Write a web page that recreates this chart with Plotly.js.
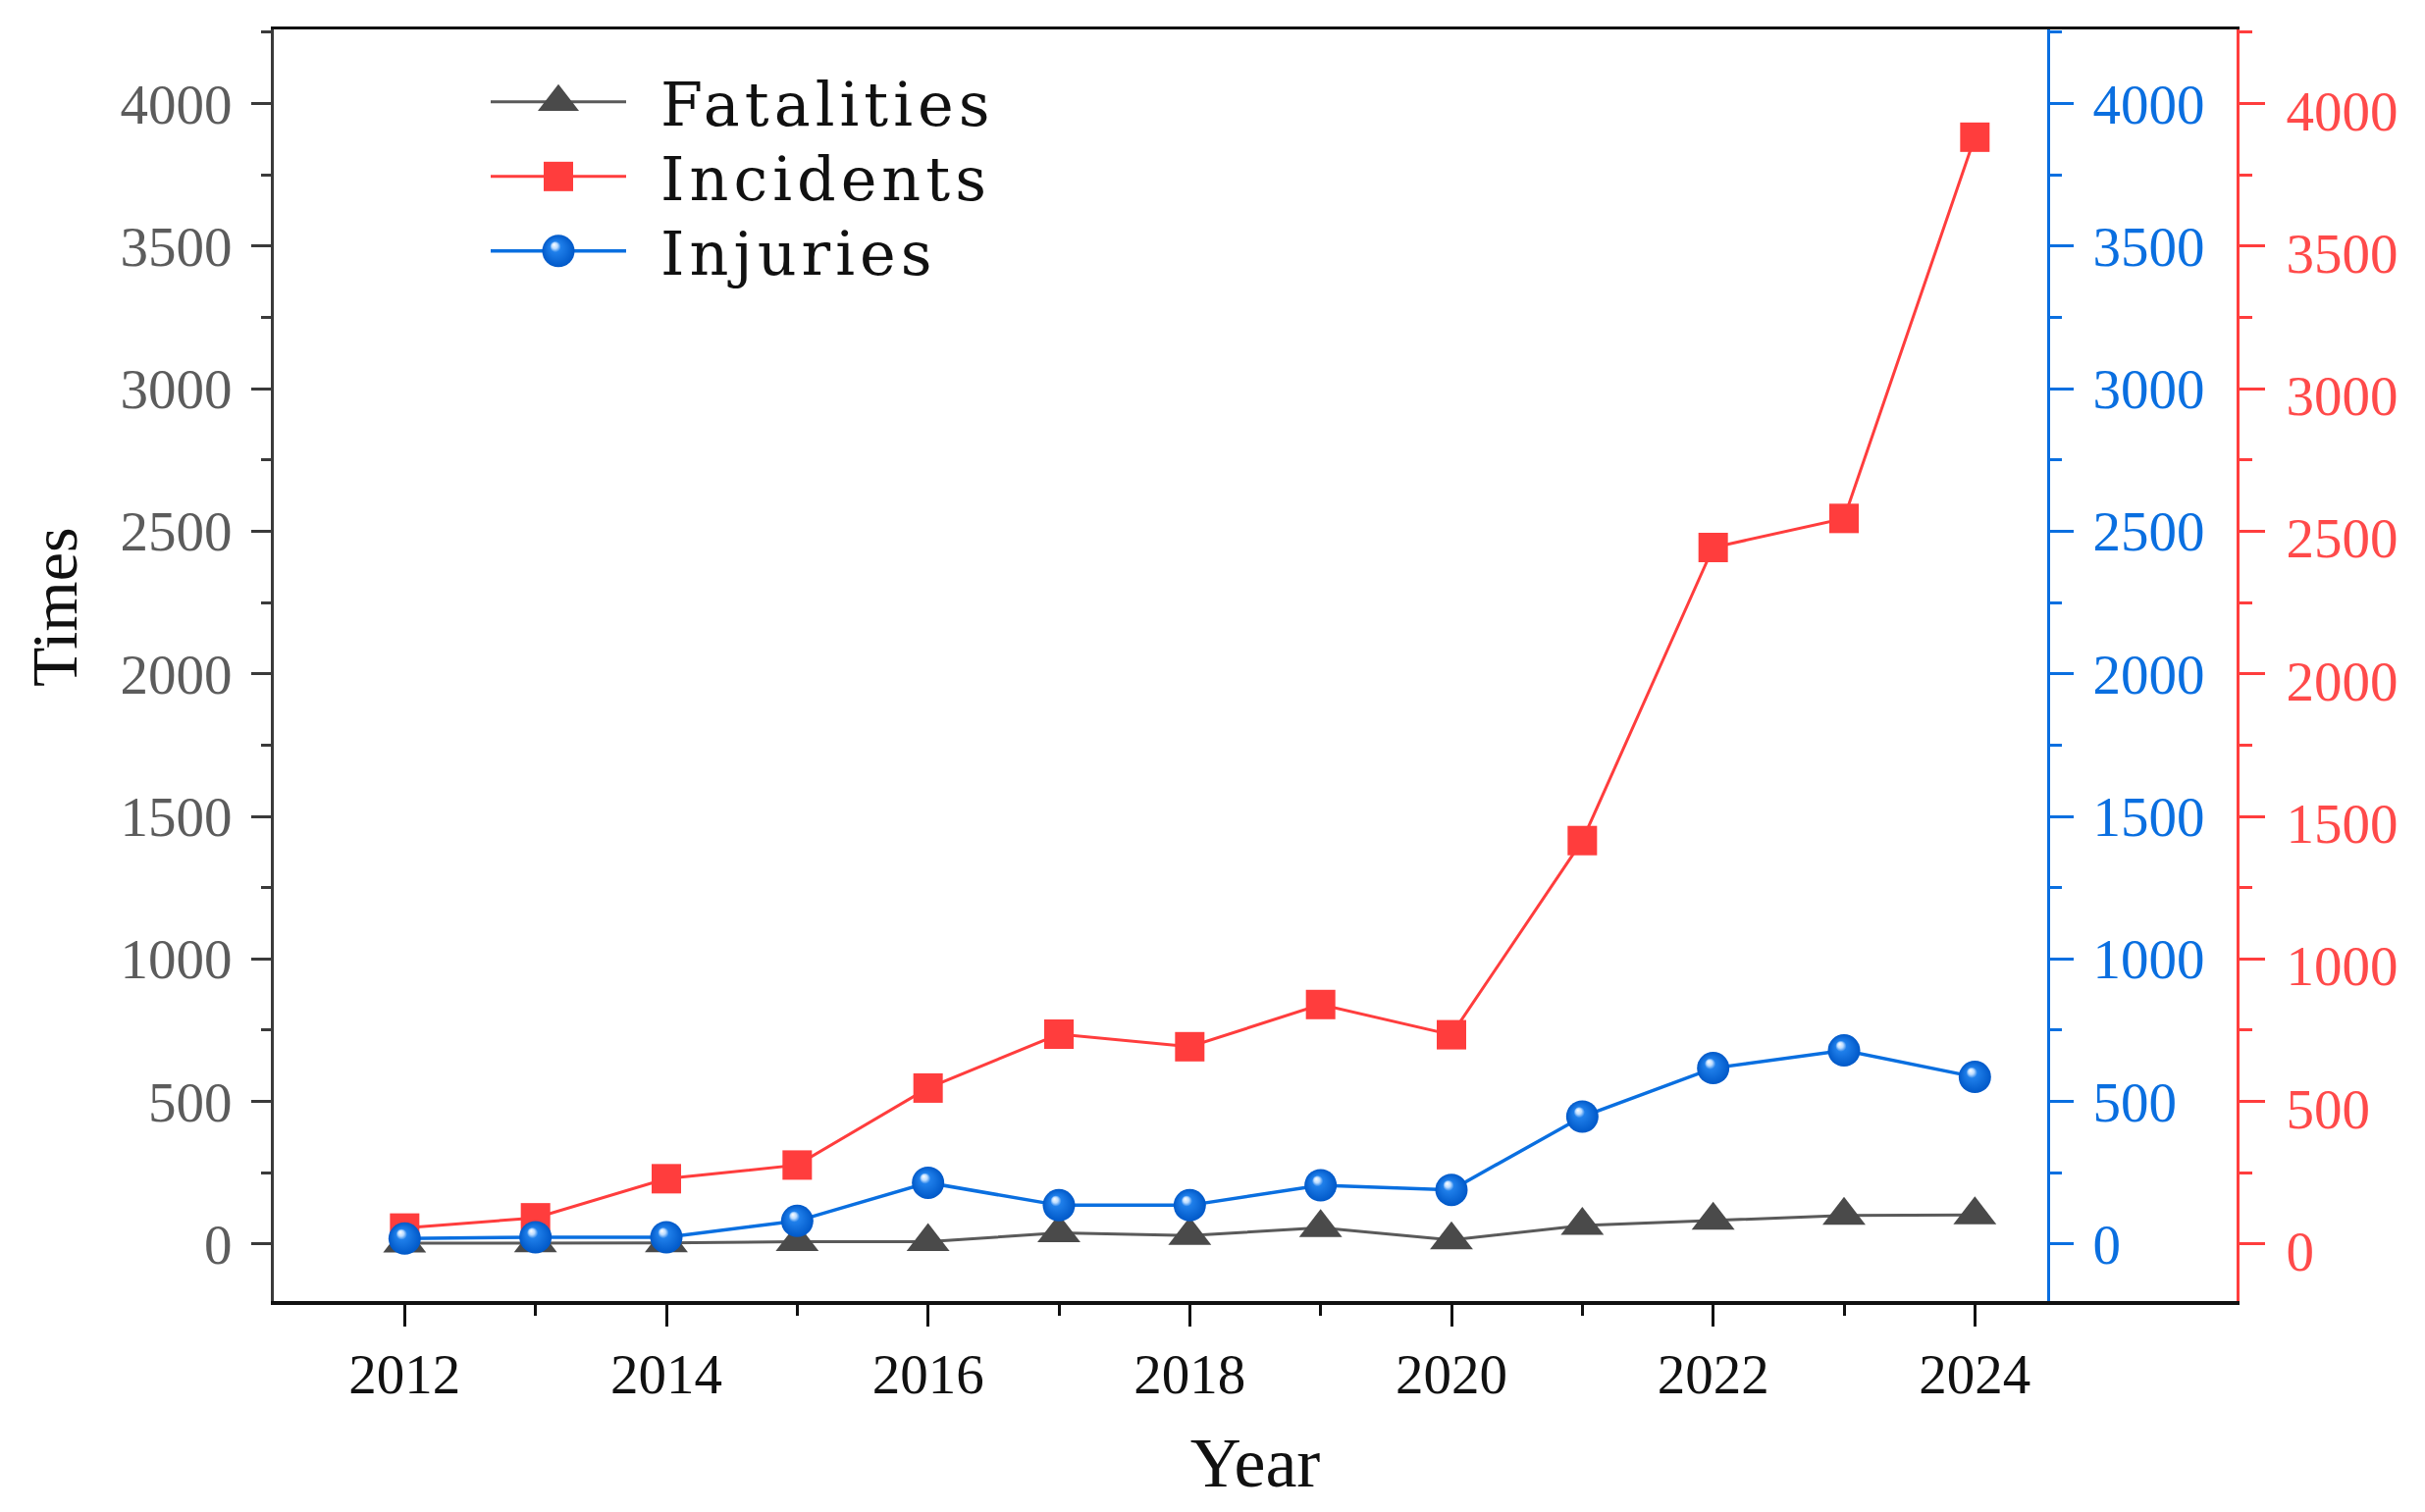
<!DOCTYPE html>
<html>
<head>
<meta charset="utf-8">
<script src="https://cdn.plot.ly/plotly-3.0.1.min.js"></script>
<style>
  html, body { margin: 0; padding: 0; background: #ffffff; }
  #chart { width: 2471px; height: 1541px; }
</style>
</head>
<body>
<div id="chart"></div>
<script>
// ---- data ----
const years = [2012, 2013, 2014, 2015, 2016, 2017, 2018, 2019, 2020, 2021, 2022, 2023, 2024];
const fatalities = [3, 4, 4, 8, 8, 39, 30, 57, 14, 65, 83, 100, 102];
const incidents = [56, 92, 229, 277, 547, 736, 692, 840, 734, 1415, 2443, 2545, 3882];
const injuries = [19, 24, 24, 81, 215, 136, 136, 206, 190, 447, 617, 679, 586];
const seriesNames = ['Fatalities', 'Incidents', 'Injuries'];
const xTickVals = [2012, 2014, 2016, 2018, 2020, 2022, 2024];
const xMinorVals = [2013, 2015, 2017, 2019, 2021, 2023];
const yTickVals = [0, 500, 1000, 1500, 2000, 2500, 3000, 3500, 4000];
const yMinorVals = [250, 750, 1250, 1750, 2250, 2750, 3250, 3750, 4250];

const RED = '#ff3d3d';
const REDTXT = '#ff4a4a';
const BLUE = '#0a6fe0';
const GRAY = '#4a4a4a';
const tickFontFamily = '"Liberation Serif", "Times New Roman", serif';
const yRange = [-200, 4260];

const traces = [
  {
    x: years, y: fatalities, name: seriesNames[0], type: 'scatter', mode: 'lines+markers',
    yaxis: 'y',
    line: { color: '#5a5a5a', width: 3 },
    marker: { symbol: 'triangle-up', size: 38, color: GRAY }
  },
  {
    x: years, y: incidents, name: seriesNames[1], type: 'scatter', mode: 'lines+markers',
    yaxis: 'y2',
    line: { color: RED, width: 3 },
    marker: { symbol: 'square', size: 30, color: RED }
  },
  {
    x: years, y: injuries, name: seriesNames[2], type: 'scatter', mode: 'lines+markers',
    yaxis: 'y3',
    line: { color: BLUE, width: 3.5 },
    marker: { symbol: 'circle', size: 33, color: BLUE,
              gradient: { type: 'radial', color: '#ffffff' } }
  }
];

const commonY = {
  range: yRange,
  tickmode: 'array',
  tickvals: yTickVals,
  showgrid: false,
  zeroline: false,
  showline: true,
  linewidth: 3,
  ticklen: 22,
  tickwidth: 3,
  fixedrange: true
};

const layout = {
  width: 2471,
  height: 1541,
  paper_bgcolor: '#ffffff',
  plot_bgcolor: '#ffffff',
  margin: { l: 279, r: 192, t: 30, b: 215, pad: 0 },
  showlegend: true,
  legend: {
    x: 0.108, y: 0.985, xanchor: 'left', yanchor: 'top',
    bgcolor: 'rgba(0,0,0,0)',
    borderwidth: 0,
    itemwidth: 138,
    font: { family: '"DejaVu Serif", serif', size: 62, color: '#111111' },
    traceorder: 'normal'
  },
  annotations: [
    {
      text: 'Times', xref: 'paper', yref: 'paper', x: -0.112, y: 0.5455,
      xanchor: 'center', yanchor: 'middle', textangle: -90, showarrow: false,
      font: { family: tickFontFamily, size: 66, color: '#111111' }
    }
  ],
  xaxis: {
    range: [2011, 2026],
    tickmode: 'array',
    tickvals: xTickVals,
    ticktext: xTickVals.map(String),
    ticks: 'outside',
    ticklen: 22,
    tickwidth: 3,
    tickcolor: '#111111',
    minor: { tickmode: 'array', tickvals: xMinorVals, ticks: 'outside', ticklen: 11, tickwidth: 3, tickcolor: '#111111' },
    showline: true,
    linecolor: '#111111',
    linewidth: 3.5,
    mirror: true,
    showgrid: false,
    zeroline: false,
    tickfont: { family: tickFontFamily, size: 57, color: '#111111' },
    title: { text: 'Year', font: { family: tickFontFamily, size: 72, color: '#111111' }, standoff: 34 },
    automargin: false,
    fixedrange: true
  },
  yaxis: Object.assign({}, commonY, {
    side: 'left',
    ticks: 'outside',
    linecolor: '#3a3a3a',
    tickcolor: '#3a3a3a',
    ticklen: 20,
    minor: { tickmode: 'array', tickvals: yMinorVals, ticks: 'outside', ticklen: 10, tickwidth: 3, tickcolor: '#3a3a3a' },
    tickfont: { family: tickFontFamily, size: 57, color: '#5c5c5c' },
    ticklabelstandoff: 8,
    automargin: false
  }),
  yaxis2: Object.assign({}, commonY, {
    overlaying: 'y',
    side: 'right',
    anchor: 'x',
    ticks: 'outside',
    linecolor: RED,
    tickcolor: RED,
    ticklen: 26,
    minor: { tickmode: 'array', tickvals: yMinorVals, ticks: 'outside', ticklen: 13, tickwidth: 3, tickcolor: RED },
    tickfont: { family: tickFontFamily, size: 57, color: REDTXT },
    ticklabelstandoff: 10,
    ticklabelshift: 7,
    automargin: false
  }),
  yaxis3: Object.assign({}, commonY, {
    overlaying: 'y',
    side: 'right',
    anchor: 'free',
    position: 0.904,
    ticks: 'outside',
    linecolor: BLUE,
    tickcolor: BLUE,
    ticklen: 24,
    minor: { tickmode: 'array', tickvals: yMinorVals, ticks: 'outside', ticklen: 12, tickwidth: 3, tickcolor: BLUE },
    tickfont: { family: tickFontFamily, size: 57, color: BLUE },
    ticklabelstandoff: 8,
    automargin: false
  }),
  // inner half of the red axis crossing ticks
  yaxis4: Object.assign({}, commonY, {
    overlaying: 'y',
    side: 'right',
    anchor: 'x',
    ticks: 'inside',
    linecolor: RED,
    tickcolor: RED,
    ticklen: 26,
    minor: { tickmode: 'array', tickvals: yMinorVals, ticks: 'inside', ticklen: 13, tickwidth: 3, tickcolor: RED },
    showticklabels: false,
    automargin: false
  })
};

function sphereGradients(root) {
  const NS = 'http://www.w3.org/2000/svg';
  root.querySelectorAll('radialGradient').forEach(function (g) {
    g.setAttribute('cx', '0.5'); g.setAttribute('cy', '0.5'); g.setAttribute('r', '0.5');
    g.setAttribute('fx', '0.36'); g.setAttribute('fy', '0.3');
    while (g.firstChild) g.removeChild(g.firstChild);
    [['0%', '#ffffff'], ['18%', '#bcdcff'], ['34%', '#1f7fea'], ['100%', '#0058c8']].forEach(function (s) {
      const st = document.createElementNS(NS, 'stop');
      st.setAttribute('offset', s[0]);
      st.setAttribute('stop-color', s[1]);
      g.appendChild(st);
    });
  });
}

function tuneLegend(root) {
  root.querySelectorAll('.legend [clip-path]').forEach(function (el) { el.removeAttribute('clip-path'); });
  const rows = root.querySelectorAll('.legend .traces');
  const targetWidths = [42, 30, 33];
  const rowGap = 76;
  let midY = null;
  const parsed = [];
  rows.forEach(function (row) {
    const m = /translate\(([-\d.]+)[ ,]+([-\d.]+)\)/.exec(row.getAttribute('transform') || '');
    parsed.push(m ? [parseFloat(m[1]), parseFloat(m[2])] : [0, 0]);
  });
  if (parsed.length === 3) midY = parsed[1][1];
  rows.forEach(function (row, i) {
    if (midY !== null) {
      row.setAttribute('transform', 'translate(' + parsed[i][0] + ',' + (midY + (i - 1) * rowGap) + ')');
    }
    const txt = row.querySelector('.legendtext');
    if (txt) {
      txt.setAttribute('transform', 'translate(30,0)');
      txt.style.letterSpacing = '5px';
    }
    row.querySelectorAll('.legendpoints path.scatterpts').forEach(function (p) {
      const bb = p.getBBox();
      if (bb.width > 0) {
        const s = targetWidths[i] / bb.width;
        p.setAttribute('transform', (p.getAttribute('transform') || '') + ' scale(' + s.toFixed(3) + ')');
      }
    });
  });
}

Plotly.newPlot('chart', traces, layout, { displayModeBar: false, staticPlot: true }).then(function (gd) {
  try { sphereGradients(gd); } catch (e) {}
  try { tuneLegend(gd); } catch (e) {}
});
</script>
</body>
</html>
